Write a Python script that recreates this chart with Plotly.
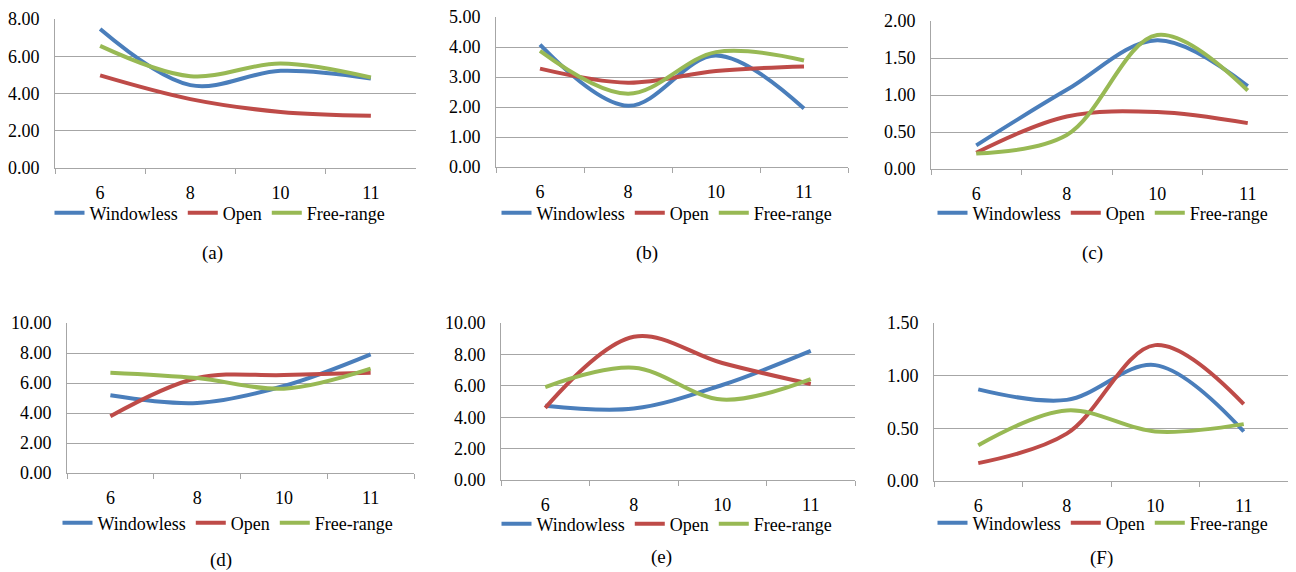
import plotly.graph_objects as go

categories = ["6", "8", "10", "11"]
series_names = ["Windowless", "Open", "Free-range"]
colors = ["#4A7EBB", "#BE4B48", "#98B954"]

a_windowless = [7.46, 4.45, 5.22, 4.81]
a_open = [4.97, 3.70, 3.01, 2.80]
a_free = [6.56, 4.93, 5.61, 4.86]

b_windowless = [4.08, 2.04, 3.72, 1.95]
b_open = [3.28, 2.81, 3.20, 3.35]
b_free = [3.87, 2.44, 3.83, 3.55]

c_windowless = [0.32, 1.07, 1.74, 1.12]
c_open = [0.22, 0.71, 0.77, 0.62]
c_free = [0.21, 0.46, 1.81, 1.06]

d_windowless = [5.18, 4.67, 5.80, 7.91]
d_open = [3.78, 6.33, 6.53, 6.69]
d_free = [6.69, 6.33, 5.62, 6.96]

e_windowless = [4.73, 4.55, 6.05, 8.22]
e_open = [4.59, 9.12, 7.45, 6.11]
e_free = [5.92, 7.15, 5.12, 6.43]

f_windowless = [0.87, 0.77, 1.10, 0.47]
f_open = [0.17, 0.45, 1.29, 0.73]
f_free = [0.34, 0.67, 0.47, 0.54]

captions = ["(a)", "(b)", "(c)", "(d)", "(e)", "(F)"]
y_max = [8, 5, 2, 10, 10, 1.5]
y_dtick = [2, 1, 0.5, 2, 2, 0.5]

panels_data = [
    [a_windowless, a_open, a_free],
    [b_windowless, b_open, b_free],
    [c_windowless, c_open, c_free],
    [d_windowless, d_open, d_free],
    [e_windowless, e_open, e_free],
    [f_windowless, f_open, f_free],
]

# The page body has an 8px default margin: the figure is drawn 8px smaller
# and every screen position is shifted by that offset.
OFF = 8
W, H = 1296 - OFF, 572 - OFF


def px_x(x):
    return (x - OFF) / W


def px_y(y):
    return 1 - (y - OFF) / H


# plot boxes in screen pixels: left, top, right, bottom
boxes = [
    (55, 19, 416, 168),
    (496, 17, 848, 167),
    (931, 21, 1293, 169),
    (67, 323, 414, 473),
    (501, 323, 855, 480),
    (934, 323, 1288, 481),
]
legend_pos = [(220, 213), (667, 213), (1103, 213), (228, 523), (667, 524), (1103, 523)]
caption_pos = [(212, 253), (647, 253), (1092, 253), (221, 560), (661, 557), (1101, 558)]

FONT = "Liberation Serif"
GRID = "#a6a6a6"

fig = go.Figure()
layout = dict(
    template="none",
    width=W, height=H, margin=dict(l=0, r=0, t=0, b=0, autoexpand=False),
    paper_bgcolor="white", plot_bgcolor="white",
    font=dict(family=FONT, size=18, color="black"),
    annotations=[],
)

for i, (data, box) in enumerate(zip(panels_data, boxes)):
    n = "" if i == 0 else str(i + 1)
    lg = "legend" + n
    for name, vals, col in zip(series_names, data, colors):
        fig.add_trace(go.Scatter(
            x=categories, y=vals, name=name, mode="lines",
            line=dict(color=col, width=4, shape="spline", smoothing=1.0),
            xaxis="x" + n, yaxis="y" + n, legend=lg,
        ))
    l, t, r, b = box
    layout["xaxis" + n] = dict(
        domain=[px_x(l), px_x(r)], anchor="y" + n, type="category", automargin=False,
        range=[-0.5, 3.5], showgrid=False, showline=True, linecolor=GRID, linewidth=1,
        ticks="outside", tickson="boundaries", ticklen=5, tickcolor=GRID, tickwidth=1,
        tickfont=dict(family=FONT, size=18, color="black"), ticklabelstandoff=8,
        ticklabeloverflow="allow", zeroline=False, fixedrange=True,
    )
    layout["yaxis" + n] = dict(
        domain=[px_y(b), px_y(t)], anchor="x" + n, automargin=False,
        range=[0, y_max[i]], dtick=y_dtick[i], tick0=0, tickformat=".2f",
        showgrid=True, gridcolor=GRID, gridwidth=1,
        showline=True, linecolor=GRID, linewidth=1, ticks="",
        tickfont=dict(family=FONT, size=18, color="black"), ticklabelstandoff=11,
        ticklabeloverflow="allow", zeroline=False, fixedrange=True,
    )
    lx, ly = legend_pos[i]
    layout[lg] = dict(
        orientation="h", x=px_x(lx), y=px_y(ly), xanchor="center", yanchor="middle",
        xref="paper", yref="paper", bgcolor="rgba(0,0,0,0)",
        font=dict(family=FONT, size=18, color="black"),
        itemwidth=30, tracegroupgap=0, traceorder="normal",
    )
    cx, cy = caption_pos[i]
    layout["annotations"].append(dict(
        text=captions[i], x=px_x(cx), y=px_y(cy), xref="paper", yref="paper",
        showarrow=False, xanchor="center", yanchor="middle",
        font=dict(family=FONT, size=19, color="black"),
    ))

fig.update_layout(**layout)
fig.write_html("out.html")
